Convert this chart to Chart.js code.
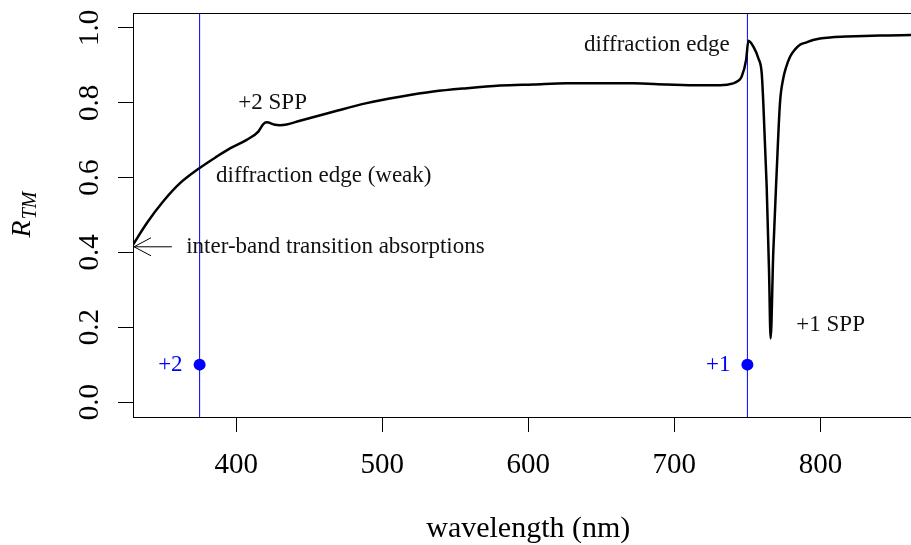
<!DOCTYPE html>
<html lang="en">
<head>
<meta charset="UTF-8">
<title>R_TM vs wavelength</title>
<style>
    html, body { margin: 0; background: #fff; }
    canvas { display: block; }
</style>
</head>
<body>
<canvas id="myChart" width="911" height="545"></canvas>
<script src="https://cdn.jsdelivr.net/npm/chart.js"></script>
<script>
    // reflectance curve
    const wavelength = [329, 338.8, 350, 361.6, 374.8, 386.7, 395.8, 407.2, 415.2, 418.6, 420.9, 426.6, 430, 434.6,
        443.7, 466.5, 489.4, 512.2, 535, 557.9, 580.7, 603.5, 626.3, 649.1, 671.9, 694.8, 717.6, 731.3,
        740.4, 743.5, 746.1, 749.1, 750.7, 754.1, 757.5, 759.8, 760.9, 763.2, 764.8, 765.9,
        767.7, 770.1, 772.3, 774.6, 776.5, 779.2, 782.5, 786, 790, 795, 799.7, 808, 817.9, 840.8, 862];
    const reflectance = [0.418, 0.478, 0.536, 0.585, 0.625, 0.656, 0.678, 0.701, 0.723, 0.743, 0.748, 0.741, 0.740, 0.742,
        0.752, 0.776, 0.799, 0.816, 0.830, 0.839, 0.846, 0.849, 0.852, 0.852, 0.852, 0.849, 0.847, 0.847,
        0.852, 0.858, 0.870, 0.914, 0.966, 0.950, 0.919, 0.879, 0.799, 0.576, 0.353, 0.170,
        0.398, 0.620, 0.799, 0.866, 0.895, 0.923, 0.942, 0.955, 0.961, 0.968, 0.972, 0.975, 0.977, 0.980, 0.981];

    // diffraction orders
    const orderWavelength = [375, 750];
    const orderMarker = [0.1, 0.1];
    const orderLabel = ['+2', '+1'];

    // text notes (data coordinates)
    const noteText = ['+2 SPP', 'diffraction edge (weak)', 'inter-band transition absorptions', 'diffraction edge', '+1 SPP'];
    const noteX = [425, 460, 468, 688, 807];
    const noteY = [0.8, 0.604, 0.415, 0.955, 0.205];

    const xMin = 329.4, xMax = 862;
    const yMin = -0.04, yMax = 1.04;

    const serif = '"Liberation Serif", "DejaVu Serif", serif';

    const curve = wavelength.map((w, i) => ({x: w, y: reflectance[i]}));

    let datasets = [{
        data: curve,
        showLine: true,
        borderColor: '#000',
        borderWidth: 2.5,
        pointRadius: 0,
        cubicInterpolationMode: 'monotone'
    }, {
        data: orderWavelength.map((w, i) => ({x: w, y: orderMarker[i]})),
        showLine: false,
        pointRadius: 6,
        pointBackgroundColor: '#0000ff',
        pointBorderWidth: 0
    }];
    orderWavelength.forEach((w) => {
        datasets.push({
            data: [{x: w, y: yMin}, {x: w, y: yMax}],
            showLine: true,
            borderColor: '#0000ff',
            borderWidth: 1,
            pointRadius: 0
        });
    });

    const extras = {
        id: 'extras',
        afterDraw(chart) {
            const ctx = chart.ctx;
            const a = chart.chartArea;
            const x = chart.scales.x;
            const y = chart.scales.y;
            ctx.save();

            // box
            ctx.strokeStyle = '#000';
            ctx.lineWidth = 1;
            ctx.strokeRect(Math.round(a.left) + 0.5, Math.round(a.top) + 0.5,
                Math.round(a.right - a.left), Math.round(a.bottom - a.top));

            // y tick labels, rotated like R
            ctx.fillStyle = '#000';
            ctx.font = '29px ' + serif;
            ctx.textAlign = 'center';
            ctx.textBaseline = 'alphabetic';
            y.ticks.forEach((t) => {
                ctx.save();
                ctx.translate(a.left - 35, y.getPixelForValue(t.value));
                ctx.rotate(-Math.PI / 2);
                ctx.fillText(t.value.toFixed(1), 0, 0);
                ctx.restore();
            });

            // x title
            ctx.font = '30px ' + serif;
            ctx.fillText('wavelength (nm)', x.getPixelForValue(600), 537);

            // y title R_TM
            ctx.save();
            ctx.translate(30, (a.top + a.bottom) / 2);
            ctx.rotate(-Math.PI / 2);
            ctx.font = 'italic 28px ' + serif;
            const wR = ctx.measureText('R').width;
            ctx.font = 'italic 20px ' + serif;
            const wS = ctx.measureText('TM').width;
            ctx.textAlign = 'left';
            ctx.font = 'italic 28px ' + serif;
            ctx.fillText('R', -(wR + wS) / 2, 0);
            ctx.font = 'italic 20px ' + serif;
            ctx.fillText('TM', -(wR + wS) / 2 + wR + 1, 6);
            ctx.restore();

            // notes
            ctx.font = '23px ' + serif;
            ctx.textAlign = 'center';
            ctx.textBaseline = 'middle';
            ctx.fillStyle = '#111';
            noteText.forEach((s, i) => {
                ctx.fillText(s, x.getPixelForValue(noteX[i]), y.getPixelForValue(noteY[i]));
            });

            // order labels
            ctx.fillStyle = '#0000ff';
            ctx.textAlign = 'right';
            orderLabel.forEach((s, i) => {
                ctx.fillText(s, x.getPixelForValue(orderWavelength[i]) - 17, y.getPixelForValue(orderMarker[i]));
            });

            // arrow to the left edge
            const tipX = x.getPixelForValue(xMin) + 1;
            const tailX = x.getPixelForValue(356);
            const ay = y.getPixelForValue(0.415);
            ctx.strokeStyle = '#000';
            ctx.lineWidth = 1;
            ctx.beginPath();
            ctx.moveTo(tailX, ay);
            ctx.lineTo(tipX, ay);
            ctx.moveTo(tipX + 17, ay - 9);
            ctx.lineTo(tipX, ay);
            ctx.lineTo(tipX + 17, ay + 9);
            ctx.stroke();

            ctx.restore();
        }
    };

    let ctx = document.getElementById('myChart').getContext('2d');
    let myChart = new Chart(ctx, {
        type: 'scatter',
        data: { datasets: datasets },
        options: {
            responsive: false,
            animation: false,
            layout: { autoPadding: false, padding: { top: 13, right: 0, left: 0, bottom: 0 } },
            plugins: {
                legend: { display: false },
                tooltip: { enabled: false }
            },
            scales: {
                x: {
                    type: 'linear',
                    min: xMin,
                    max: xMax,
                    afterFit: (s) => { s.height = 128; s.paddingLeft = 0; s.paddingRight = 0; },
                    border: { display: true, color: '#000', width: 1 },
                    grid: { drawOnChartArea: false, drawTicks: true, tickLength: 15, color: '#000' },
                    ticks: {
                        stepSize: 100,
                        includeBounds: false,
                        padding: 16,
                        color: '#000',
                        maxRotation: 0,
                        font: { family: serif, size: 29 }
                    }
                },
                y: {
                    type: 'linear',
                    min: yMin,
                    max: yMax,
                    afterFit: (s) => { s.width = 133; s.paddingTop = 0; s.paddingBottom = 0; },
                    border: { display: true, color: '#000', width: 1 },
                    grid: { drawOnChartArea: false, drawTicks: true, tickLength: 15, color: '#000' },
                    ticks: {
                        stepSize: 0.2,
                        includeBounds: false,
                        display: false
                    }
                }
            }
        },
        plugins: [extras]
    });
</script>
</body>
</html>
